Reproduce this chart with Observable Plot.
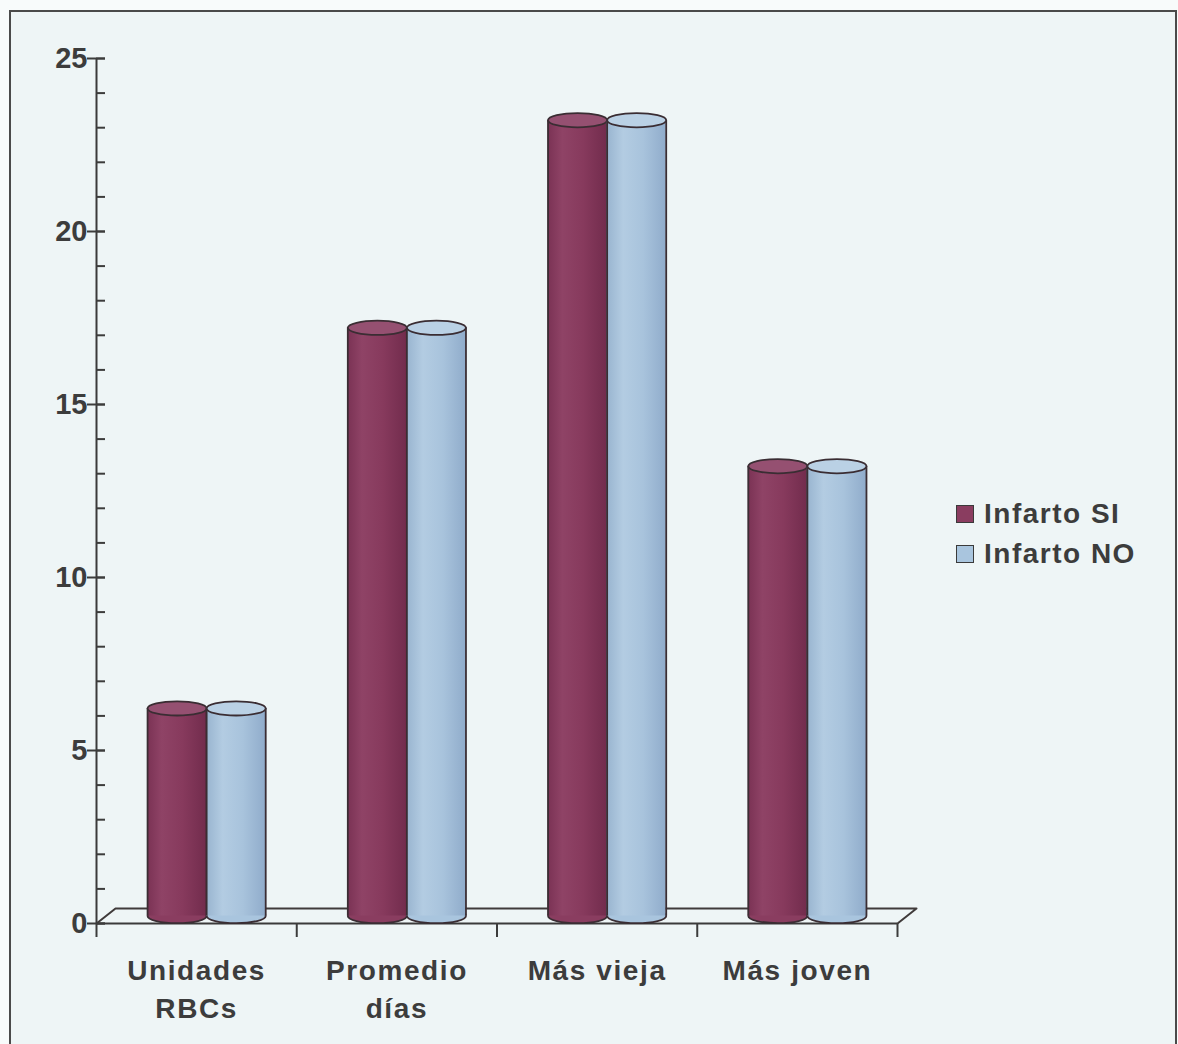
<!DOCTYPE html>
<html>
<head>
<meta charset="utf-8">
<script src="https://cdn.jsdelivr.net/npm/d3@7"></script>
<script src="https://cdn.jsdelivr.net/npm/@observablehq/plot@0.6"></script>
<style>
  html, body { margin: 0; padding: 0; background: #f8fbfb; }
  #page { position: relative; width: 1178px; height: 1044px; overflow: hidden; background: #f8fbfb; }
  #frame { position: absolute; left: 9px; top: 10px; width: 1164px; height: 1060px;
           border: 2px solid #4a4a4a; background: #eef5f6; }
  #chart { position: absolute; left: 0; top: 0; }
  #legend { position: absolute; left: 956px; top: 494px;
            font-family: "Liberation Sans", Arial, sans-serif; font-weight: bold;
            font-size: 28px; letter-spacing: 1.5px; color: #3c3c3c; }
  .item { display: flex; align-items: center; height: 40px; }
  .swatch { width: 16px; height: 16px; border: 1.6px solid #3a3a3a; margin-right: 10px; }
</style>
</head>
<body>
<div id="page">
  <div id="frame"></div>
  <div id="chart"></div>
  <div id="legend"></div>
</div>
<script>
// Categories and the two series (Infarto SI / Infarto NO)
const categories = ["Unidades\nRBCs", "Promedio\ndías", "Más vieja", "Más joven"];
const seriesNames = ["Infarto SI", "Infarto NO"];
const infartoSi = [6, 17, 23, 13];
const infartoNo = [6, 17, 23, 13];
const yMajorTicks = [0, 5, 10, 15, 20, 25];
const yMinorTicks = d3.range(0, 26);

const seriesValues = [infartoSi, infartoNo];
const bodyColors = ["#8a3d60", "#a9c5de"];
const topColors = ["#955071", "#bad1e5"];
const edge = "#3a2d33";

// Plot geometry
const W = 1178, H = 1044;
const mL = 96, mR = 281, mT = 58, mB = 121;
const xUnit = (W - mL - mR) / categories.length;
const yUnit = (H - mT - mB) / 25;

// 3D floor depth (pixels) and cylinder layout within a category band
const depth = {x: 19, y: 15};
const halfLift = -depth.y / 2;
const barW = 0.295, barStart = 0.255;
const ellipseRatio = 0.24;

// Table of bars
const rows = [];
seriesValues.forEach((vals, j) => vals.forEach((v, i) => {
  const x1 = i + barStart + j * barW;
  rows.push({series: j, cat: i, value: v, x1, x2: x1 + barW, cx: x1 + barW / 2});
}));

// Flat ellipse symbol for cylinder caps
const ellipse = {
  draw(ctx, size) {
    const rx = Math.sqrt(size / Math.PI), ry = rx * ellipseRatio, k = 0.5523;
    ctx.moveTo(rx, 0);
    ctx.bezierCurveTo(rx, ry * k, rx * k, ry, 0, ry);
    ctx.bezierCurveTo(-rx * k, ry, -rx, ry * k, -rx, 0);
    ctx.bezierCurveTo(-rx, -ry * k, -rx * k, -ry, 0, -ry);
    ctx.bezierCurveTo(rx * k, -ry, rx, -ry * k, rx, 0);
    ctx.closePath();
  }
};

// Horizontal shading for cylinder bodies
function gradients() {
  const defs = d3.create("svg:defs");
  const stops = [
    [["0%", "#7a3254"], ["25%", "#8f4366"], ["60%", "#873a5d"], ["100%", "#722c4d"]],
    [["0%", "#98b4cf"], ["28%", "#b3cce2"], ["62%", "#a8c3dc"], ["100%", "#90accb"]]
  ];
  stops.forEach((s, j) => {
    const g = defs.append("linearGradient").attr("id", "cyl" + j)
      .attr("x1", "0").attr("x2", "1").attr("y1", "0").attr("y2", "0");
    s.forEach(([o, c]) => g.append("stop").attr("offset", o).attr("stop-color", c));
  });
  return defs.node();
}

const dX = depth.x / xUnit, dY = depth.y / yUnit;
const n = categories.length;
const floor = [
  {x: 0, y: 0}, {x: dX, y: dY}, {x: n + dX, y: dY}, {x: n, y: 0}
];

const cylinderMarks = [0, 1].flatMap(j => {
  const data = rows.filter(r => r.series === j);
  const r = barW * xUnit / 2;
  return [
    Plot.dot(data, {x: "cx", y: () => 0, r, symbol: ellipse, fill: bodyColors[j],
                    stroke: edge, strokeWidth: 1.8, dy: halfLift}),
    Plot.rect(data, {x1: "x1", x2: "x2", y1: () => 0, y2: "value",
                     fill: `url(#cyl${j})`, dy: halfLift}),
    Plot.ruleX(data, {x: "x1", y1: () => 0, y2: "value", stroke: edge, strokeWidth: 1.8, dy: halfLift}),
    Plot.ruleX(data, {x: "x2", y1: () => 0, y2: "value", stroke: edge, strokeWidth: 1.8, dy: halfLift}),
    Plot.dot(data, {x: "cx", y: "value", r, symbol: ellipse, fill: topColors[j],
                    stroke: edge, strokeWidth: 1.8, dy: halfLift})
  ];
});

const chart = Plot.plot({
  width: W,
  height: H,
  marginLeft: mL,
  marginRight: mR,
  marginTop: mT,
  marginBottom: mB,
  style: {background: "transparent", fontFamily: "'Liberation Sans', Arial, sans-serif", color: "#3c3c3c", overflow: "visible"},
  x: {type: "linear", domain: [0, n]},
  y: {domain: [0, 25]},
  marks: [
    gradients,
    // floor of the 3D plot area
    Plot.line(floor, {x: "x", y: "y", stroke: "#3f3a3a", strokeWidth: 2}),
    Plot.ruleY([0], {x1: 0, x2: n, stroke: "#3a3a3a", strokeWidth: 2}),
    // value axis
    Plot.ruleX([0], {y1: 0, y2: 25, stroke: "#3a3a3a", strokeWidth: 2}),
    Plot.axisY(yMinorTicks, {tickSize: 9, dx: 9, tickFormat: () => "", strokeWidth: 2, label: null}),
    Plot.axisY(yMajorTicks, {tickSize: 18, dx: 9, tickPadding: 0, strokeWidth: 2, label: null,
                             fontSize: 29, fontWeight: "bold"}),
    // category separators
    Plot.axisX(d3.range(0, n + 1), {tickSize: 14, tickFormat: () => "", strokeWidth: 2, label: null}),
    ...cylinderMarks,
    // category labels
    Plot.text(categories, {x: (d, i) => i + 0.5, y: () => 0, text: d => d, dy: 30,
                           lineAnchor: "top", lineHeight: 38 / 28, fontSize: 28,
                           fontWeight: "bold", fill: "#3c3c3c"})
  ]
});
// slightly widened lettering on the category labels
chart.querySelectorAll("g[aria-label='text'] text").forEach(t => t.setAttribute("letter-spacing", "1.6"));
document.getElementById("chart").appendChild(chart);

// Series legend
const legend = d3.select("#legend");
seriesNames.forEach((name, j) => {
  const item = legend.append("div").attr("class", "item");
  item.append("div").attr("class", "swatch").style("background", bodyColors[j]);
  item.append("span").text(name);
});
</script>
</body>
</html>
